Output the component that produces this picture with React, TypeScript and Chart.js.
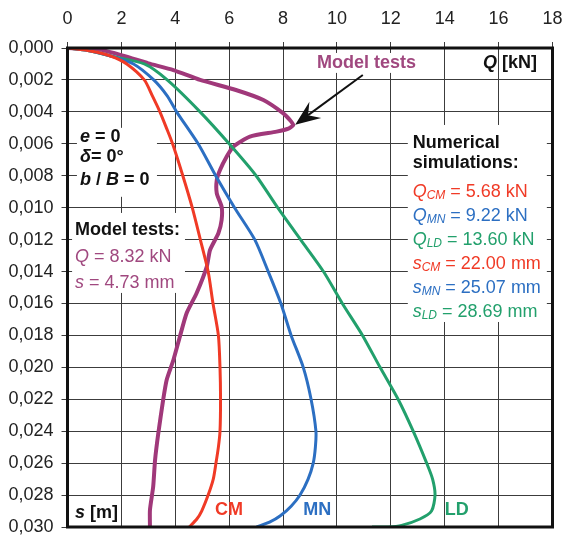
import React, { useEffect, useRef } from "react";
import { Chart, registerables } from "chart.js";

Chart.register(...registerables);

// ---- Data ----
const xTicks = [0, 2, 4, 6, 8, 10, 12, 14, 16, 18];

const cmS = [0, 0.0002, 0.0005, 0.001, 0.002, 0.003, 0.004, 0.005, 0.006, 0.008, 0.010, 0.012, 0.014, 0.016, 0.018, 0.020, 0.022, 0.024, 0.025, 0.026, 0.027, 0.028, 0.029, 0.0295, 0.030];
const cmQ = [0, 0.9, 1.6, 2.2, 2.85, 3.15, 3.43, 3.67, 3.9, 4.28, 4.63, 4.93, 5.22, 5.4, 5.6, 5.66, 5.68, 5.66, 5.6, 5.51, 5.41, 5.22, 4.98, 4.8, 4.52];

const mnS = [0, 0.0002, 0.0005, 0.001, 0.002, 0.003, 0.004, 0.006, 0.008, 0.010, 0.012, 0.014, 0.016, 0.018, 0.020, 0.022, 0.024, 0.025, 0.026, 0.027, 0.028, 0.0287, 0.0293, 0.0297, 0.030];
const mnQ = [0, 0.9, 1.6, 2.45, 3.2, 3.7, 4.05, 4.85, 5.5, 6.2, 6.95, 7.45, 7.92, 8.3, 8.75, 9.04, 9.22, 9.2, 9.12, 8.93, 8.63, 8.3, 7.9, 7.5, 7.02];

const ldS = [0, 0.0002, 0.0005, 0.001, 0.002, 0.004, 0.006, 0.008, 0.010, 0.012, 0.014, 0.016, 0.018, 0.020, 0.022, 0.024, 0.026, 0.027, 0.028, 0.029, 0.0295, 0.0299, 0.030, 0.030];
const ldQ = [0, 0.9, 1.6, 2.85, 3.7, 4.92, 6.0, 7.0, 7.8, 8.65, 9.5, 10.2, 10.95, 11.6, 12.27, 12.83, 13.33, 13.55, 13.64, 13.51, 13.08, 12.4, 11.9, 11.3];

const modelS = [0, 0.0001, 0.0005, 0.00096, 0.00138, 0.002, 0.00263, 0.00326, 0.00409, 0.0045, 0.00482, 0.00505, 0.00524, 0.00555, 0.00618, 0.0068, 0.00764, 0.00827, 0.0091, 0.00994, 0.01077, 0.0116, 0.01265, 0.01369, 0.01536, 0.01661, 0.01808, 0.01954, 0.02079, 0.02204, 0.02413, 0.0258, 0.02747, 0.02893, 0.030];
const modelQ = [0, 1.2, 2.1, 3.0, 3.93, 4.92, 6.25, 7.27, 8.01, 8.25, 8.38, 8.2, 7.76, 6.77, 6.15, 5.91, 5.66, 5.54, 5.54, 5.72, 5.72, 5.6, 5.29, 5.17, 4.79, 4.42, 4.17, 3.93, 3.68, 3.55, 3.37, 3.25, 3.18, 3.06, 3.06];

const RED = "#f03a26";
const BLUE = "#2c6fc2";
const GREEN = "#22a06c";
const PURPLE = "#a0387a";
const PURPLE_TXT = "#a0487f";

const FONT = "'Liberation Sans', Arial, sans-serif";

type Seg = { t: string; font: string; color: string; dy?: number };

function drawSegs(ctx: CanvasRenderingContext2D, segs: Seg[], x: number, y: number, align: "left" | "center" = "left") {
  ctx.save();
  ctx.textBaseline = "middle";
  ctx.textAlign = "left";
  let total = 0;
  for (const s of segs) {
    ctx.font = s.font;
    total += ctx.measureText(s.t).width;
  }
  let cx = align === "center" ? x - total / 2 : x;
  for (const s of segs) {
    ctx.font = s.font;
    ctx.fillStyle = s.color;
    ctx.fillText(s.t, cx, y + (s.dy || 0));
    cx += ctx.measureText(s.t).width;
  }
  ctx.restore();
}

const B = (sz: number) => `bold ${sz}px ${FONT}`;
const BI = (sz: number) => `italic bold ${sz}px ${FONT}`;
const R = (sz: number) => `${sz}px ${FONT}`;
const I = (sz: number) => `italic ${sz}px ${FONT}`;

const annotPlugin = {
  id: "annot",
  beforeDatasetsDraw(chart: any) {
    const ctx: CanvasRenderingContext2D = chart.ctx;
    const xs = chart.scales.x;
    const ys = chart.scales.y;
    const px = (q: number) => xs.getPixelForValue(q);
    const py = (s: number) => ys.getPixelForValue(s);
    ctx.save();
    ctx.fillStyle = "#ffffff";
    const box = (q0: number, q1: number, s0: number, s1: number) => {
      ctx.fillRect(px(q0), py(s0), px(q1) - px(q0), py(s1) - py(s0));
    };
    box(0.35, 3.32, 0.005, 0.00932);
    box(0.17, 4.36, 0.01033, 0.01534);
    box(12.63, 17.79, 0.00482, 0.01716);
    box(9.2, 13.2, 0.00031, 0.00156);
    ctx.restore();

    const T = 18;
    drawSegs(ctx, [{ t: "e", font: BI(T), color: "#111" }, { t: " = 0", font: B(T), color: "#111" }], px(0.46), py(0.00557));
    drawSegs(ctx, [{ t: "δ", font: BI(T), color: "#111" }, { t: "= 0°", font: B(T), color: "#111" }], px(0.46), py(0.00683));
    drawSegs(ctx, [{ t: "b", font: BI(T), color: "#111" }, { t: " / ", font: B(T), color: "#111" }, { t: "B", font: BI(T), color: "#111" }, { t: " = 0", font: B(T), color: "#111" }], px(0.46), py(0.00827));

    drawSegs(ctx, [{ t: "Model tests:", font: B(T), color: "#111" }], px(0.28), py(0.0114));
    drawSegs(ctx, [{ t: "Q", font: I(T), color: PURPLE_TXT }, { t: " = 8.32 kN", font: R(T), color: PURPLE_TXT }], px(0.28), py(0.01307));
    drawSegs(ctx, [{ t: "s", font: I(T), color: PURPLE_TXT }, { t: " = 4.73 mm", font: R(T), color: PURPLE_TXT }], px(0.28), py(0.0147));

    drawSegs(ctx, [{ t: "Model tests", font: B(T), color: PURPLE_TXT }], px(11.1), py(0.00096), "center");
    drawSegs(ctx, [{ t: "Q", font: BI(T), color: "#111" }, { t: " [kN]", font: B(T), color: "#111" }], px(15.42), py(0.00094));

    drawSegs(ctx, [{ t: "Numerical", font: B(T), color: "#111" }], px(12.81), py(0.00593));
    drawSegs(ctx, [{ t: "simulations:", font: B(T), color: "#111" }], px(12.81), py(0.0072));

    const rows: [string, string, string, string][] = [
      ["Q", "CM", " = 5.68 kN", RED],
      ["Q", "MN", " = 9.22 kN", BLUE],
      ["Q", "LD", " = 13.60 kN", GREEN],
      ["s", "CM", " = 22.00 mm", RED],
      ["s", "MN", " = 25.07 mm", BLUE],
      ["s", "LD", " = 28.69 mm", GREEN],
    ];
    const rowS = [0.00902, 0.01052, 0.01202, 0.01353, 0.01503, 0.01653];
    rows.forEach((r, i) => {
      drawSegs(ctx, [
        { t: r[0], font: I(T), color: r[3] },
        { t: r[1], font: I(12), color: r[3], dy: 4 },
        { t: r[2], font: R(T), color: r[3] },
      ], px(12.81), py(rowS[i]));
    });

    drawSegs(ctx, [{ t: "s", font: BI(T), color: "#111" }, { t: " [m]", font: B(T), color: "#111" }], px(0.28), py(0.02912));
    drawSegs(ctx, [{ t: "CM", font: B(T), color: RED }], px(5.47), py(0.02893));
    drawSegs(ctx, [{ t: "MN", font: B(T), color: BLUE }], px(8.75), py(0.02893));
    drawSegs(ctx, [{ t: "LD", font: B(T), color: GREEN }], px(14.0), py(0.02893));
  },
  afterDatasetsDraw(chart: any) {
    const ctx: CanvasRenderingContext2D = chart.ctx;
    const xs = chart.scales.x;
    const ys = chart.scales.y;
    const a = chart.chartArea;
    // Arrow
    const x0 = xs.getPixelForValue(10.96), y0 = ys.getPixelForValue(0.00169);
    const x1 = xs.getPixelForValue(8.45), y1 = ys.getPixelForValue(0.0048);
    const ang = Math.atan2(y1 - y0, x1 - x0);
    const L = 25, W = 10, N = 16;
    ctx.save();
    ctx.strokeStyle = "#111";
    ctx.fillStyle = "#111";
    ctx.lineWidth = 2;
    ctx.beginPath();
    ctx.moveTo(x0, y0);
    ctx.lineTo(x1 - Math.cos(ang) * N, y1 - Math.sin(ang) * N);
    ctx.stroke();
    const bx = x1 - Math.cos(ang) * L, by = y1 - Math.sin(ang) * L;
    const nx = -Math.sin(ang), ny = Math.cos(ang);
    ctx.beginPath();
    ctx.moveTo(x1, y1);
    ctx.lineTo(bx + nx * W, by + ny * W);
    ctx.lineTo(x1 - Math.cos(ang) * N, y1 - Math.sin(ang) * N);
    ctx.lineTo(bx - nx * W, by - ny * W);
    ctx.closePath();
    ctx.fill();
    // Frame
    ctx.lineWidth = 3;
    ctx.strokeStyle = "#111";
    ctx.strokeRect(a.left, a.top, a.right - a.left, a.bottom - a.top);
    ctx.restore();
  },
};

function pts(q: number[], s: number[]) {
  return q.map((v, i) => ({ x: v, y: s[i] }));
}

export default function App() {
  const ref = useRef<HTMLCanvasElement | null>(null);
  useEffect(() => {
    if (!ref.current) return;
    const common = { showLine: true, pointRadius: 0, tension: 0.25, fill: false };
    const chart = new Chart(ref.current, {
      type: "scatter",
      data: {
        datasets: [
          { ...common, label: "CM", data: pts(cmQ, cmS), borderColor: RED, borderWidth: 3 },
          { ...common, label: "MN", data: pts(mnQ, mnS), borderColor: BLUE, borderWidth: 3 },
          { ...common, label: "LD", data: pts(ldQ, ldS), borderColor: GREEN, borderWidth: 3 },
          { ...common, label: "Model tests", data: pts(modelQ, modelS), borderColor: PURPLE, borderWidth: 4, tension: 0.2 },
        ],
      },
      options: {
        animation: false,
        responsive: false,
        maintainAspectRatio: false,
        layout: { padding: { left: 0, top: 0, right: 10.5, bottom: 11 } },
        plugins: { legend: { display: false }, tooltip: { enabled: false } },
        scales: {
          x: {
            type: "linear",
            position: "top",
            min: 0,
            max: 18,
            afterBuildTicks: (s: any) => { s.ticks = xTicks.map((v) => ({ value: v })); },
            afterFit: (s: any) => { s.height = 48; s.paddingLeft = 0; s.paddingRight = 0; },
            grid: { color: "#3c3c3c", lineWidth: 1, tickLength: 6, drawTicks: true },
            border: { display: false },
            ticks: { color: "#222", font: { family: FONT, size: 18 }, padding: 12, maxRotation: 0 },
          },
          y: {
            type: "linear",
            reverse: true,
            min: 0,
            max: 0.03,
            afterBuildTicks: (s: any) => {
              const t = [];
              for (let i = 0; i <= 15; i++) t.push({ value: Math.round(i * 2) / 1000 });
              s.ticks = t;
            },
            afterFit: (s: any) => { s.width = 67.5; s.paddingTop = 0; s.paddingBottom = 0; },
            grid: { color: "#3c3c3c", lineWidth: 1, tickLength: 6 },
            border: { display: false },
            ticks: {
              color: "#222",
              font: { family: FONT, size: 18 },
              padding: 8,
              callback: (v: any) => Number(v).toFixed(3).replace(".", ","),
            },
          },
        },
      },
      plugins: [annotPlugin],
    } as any);
    return () => chart.destroy();
  }, []);
  return (
    <div style={{ position: "fixed", left: 0, top: 0, width: 563, height: 538, background: "#fff" }}>
      <canvas ref={ref} width={563} height={538} style={{ width: 563, height: 538, display: "block" }} />
    </div>
  );
}
